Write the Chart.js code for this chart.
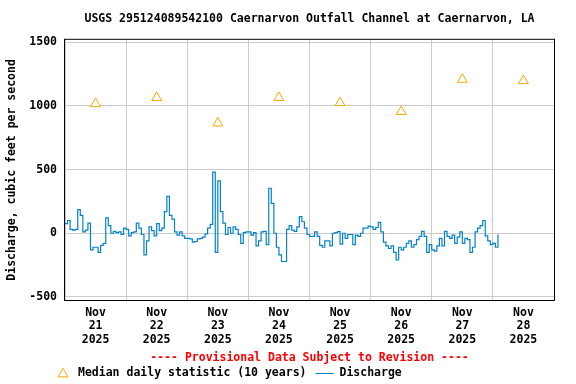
<!DOCTYPE html>
<html>
<head>
<meta charset="utf-8">
<script src="https://cdn.jsdelivr.net/npm/chart.js@4"></script>
<style>
  html, body { margin: 0; padding: 0; background: #fff; }
  #chartDischarge { display: block; }
</style>
</head>
<body>
<canvas id="chartDischarge" width="576" height="384"></canvas>
<script>
// hours are counted from Nov 21 2025 00:00
const dayLabels = ["21", "22", "23", "24", "25", "26", "27", "28"];
const monthLabel = "Nov";
const yearLabel = "2025";
const yTicks = [-500, 0, 500, 1000, 1500];

const medianHours = [12, 36, 60, 84, 108, 132, 156, 180];
const medianValues = [1016, 1064, 864, 1064, 1024, 954, 1207, 1197];

// discharge, one value per hour
const dischargeValues = [
  75, 100, 30, 25, 30, 185, 140, 10, 25, 80, -130, -110, -110, -150, -95, -80, 120, 60, 0, 15, 5, 10, -10, 40,
  30, -20, 5, 10, 80, 40, -10, -170, -60, 50, 20, -20, 75, 20, 40, 170, 290, 140, 110, 10, -15, 10, -20, -40,
  -40, -45, -70, -65, -45, -40, -30, -5, 40, 70, 480, -150, 411, 170, 80, -10, 45, 0, 50, 30, -10, -80, 5, 10,
  10, -15, 5, -100, -60, 10, 15, -90, 353, 235, 0, -110, -170, -222, -222, 30, 60, 25, 15, 50, 130, 90, 40, -10,
  -25, -25, 10, -25, -95, -110, -60, -60, -100, 0, 5, 13, -85, 0, -40, -10, -10, -90, -15, -25, 0, 40, 40, 55,
  50, 30, 45, 85, 10, -70, -100, -120, -100, -150, -210, -110, -130, -110, -80, -60, -110, -90, -50, -25, 15, -25, -150, -90,
  -130, -140, -100, -40, -100, 15, -25, -40, -15, -80, -30, 10, -80, -40, -50, -150, -110, 10, 40, 60, 100, -20, -60, -90,
  -80, -110, -10
];

const monoFont = { family: "'DejaVu Sans Mono', 'Liberation Mono', monospace", size: 11.5, weight: "bold" };
const lineColor = "#0082cc";
const triangleColor = "#ffa500";
const gridColor = "#cccccc";

const chartElement = document.querySelector("#chartDischarge");

// black frame round the plot, the red notice and the legend line
const frameAndNotes = {
  id: "frameAndNotes",
  afterDraw(chart) {
    const { ctx, chartArea } = chart;
    ctx.save();
    ctx.strokeStyle = "#000";
    ctx.lineWidth = 1;
    ctx.strokeRect(chartArea.left - 0.5, chartArea.top - 0.5, chartArea.width + 1, chartArea.height + 1);

    ctx.font = `bold ${monoFont.size}px ${monoFont.family}`;
    ctx.textBaseline = "middle";

    ctx.fillStyle = "#ff0000";
    ctx.textAlign = "center";
    ctx.fillText("---- Provisional Data Subject to Revision ----", (chartArea.left + chartArea.right) / 2, 358);

    const medianSet = chart.data.datasets[0];
    const flowSet = chart.data.datasets[1];
    const legendY = 373;
    ctx.strokeStyle = triangleColor;
    ctx.fillStyle = "#fff";
    Chart.helpers.drawPoint(ctx, { pointStyle: "triangle", radius: 5.7, borderWidth: 1, rotation: 0 }, 63, legendY + 1);

    ctx.fillStyle = "#000";
    ctx.textAlign = "left";
    ctx.fillText(medianSet.label, 78, legendY);
    const textEnd = 78 + ctx.measureText(medianSet.label).width;
    ctx.strokeStyle = lineColor;
    ctx.lineWidth = 1;
    ctx.beginPath();
    ctx.moveTo(textEnd + 9, legendY + 0.5);
    ctx.lineTo(textEnd + 27, legendY + 0.5);
    ctx.stroke();
    ctx.fillText(flowSet.label, textEnd + 33, legendY);
    ctx.restore();
  },
};

const chartDischarge = new Chart(chartElement, {
  type: "line",
  data: {
    datasets: [
      {
        label: "Median daily statistic (10 years)",
        data: medianHours.map((h, i) => ({ x: h, y: medianValues[i] })),
        showLine: false,
        pointStyle: "triangle",
        pointRadius: 5.7,
        pointBorderWidth: 1,
        pointBorderColor: triangleColor,
        pointBackgroundColor: "#fff",
        borderColor: triangleColor,
      },
      {
        label: "Discharge",
        data: dischargeValues.map((v, i) => ({ x: i, y: v })),
        borderColor: lineColor,
        borderWidth: 1.2,
        pointRadius: 0,
        stepped: true,
        fill: false,
      },
    ],
  },
  options: {
    responsive: false,
    devicePixelRatio: 1,
    animation: false,
    layout: { padding: { left: 0, right: 22, top: 0, bottom: 0 } },
    plugins: {
      legend: { display: false },
      tooltip: { enabled: false },
      title: {
        display: true,
        fullSize: false,
        text: "USGS 295124089542100 Caernarvon Outfall Channel at Caernarvon, LA",
        color: "#000",
        font: monoFont,
        padding: { top: 12, bottom: 14 },
      },
    },
    scales: {
      x: {
        type: "linear",
        min: 0,
        max: 192,
        afterBuildTicks: (scale) => {
          const ticks = [];
          for (let h = 0; h <= 192; h += 12) ticks.push({ value: h });
          scale.ticks = ticks;
        },
        afterFit: (scale) => {
          scale.height = 84;
        },
        grid: {
          color: (ctx) => (ctx.tick && ctx.tick.value % 24 === 0 ? gridColor : "rgba(0,0,0,0)"),
          drawTicks: false,
          lineWidth: 1,
        },
        border: { display: false },
        ticks: {
          autoSkip: false,
          maxRotation: 0,
          padding: 6,
          color: "#000",
          font: { ...monoFont, lineHeight: 1.17 },
          callback: (value) => {
            if (value % 24 !== 12) return "";
            return [monthLabel, dayLabels[(value - 12) / 24], yearLabel];
          },
        },
      },
      y: {
        min: -524,
        max: 1518,
        afterBuildTicks: (scale) => {
          scale.ticks = yTicks.map((v) => ({ value: v }));
        },
        afterFit: (scale) => {
          scale.width = 65;
        },
        grid: { color: gridColor, drawTicks: false, lineWidth: 1 },
        border: { display: false },
        ticks: {
          padding: 8,
          color: "#000",
          font: monoFont,
          callback: (value) => String(value),
        },
        title: {
          display: true,
          text: "Discharge, cubic feet per second",
          color: "#000",
          font: monoFont,
          padding: { top: 5, bottom: 0 },
        },
      },
    },
  },
  plugins: [frameAndNotes],
});
</script>
</body>
</html>
